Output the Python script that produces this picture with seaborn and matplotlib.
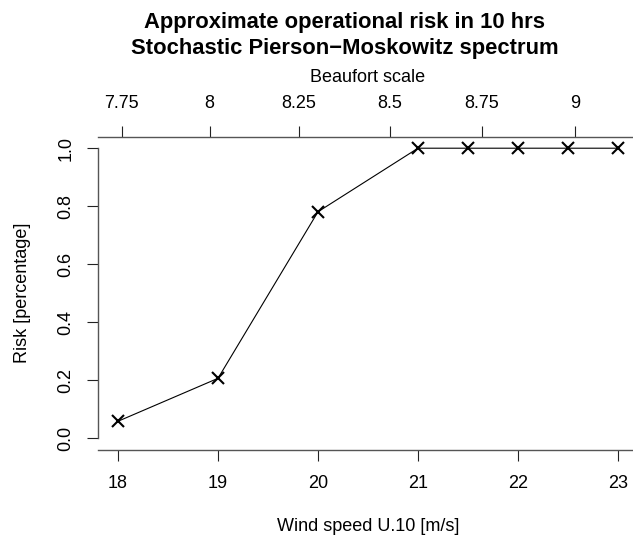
import matplotlib
matplotlib.use("Agg")
import matplotlib.pyplot as plt
import numpy as np
import pandas as pd
import seaborn as sns

# Operational risk vs. wind speed
wind_speed = [18, 19, 20, 21, 21.5, 22, 22.5, 23]
risk = [0.059, 0.207, 0.781, 1.0, 1.0, 1.0, 1.0, 1.0]

wind_ticks = [18, 19, 20, 21, 22, 23]
risk_ticks = [0.0, 0.2, 0.4, 0.6, 0.8, 1.0]
risk_labels = ["0.0", "0.2", "0.4", "0.6", "0.8", "1.0"]
beaufort_ticks = [7.75, 8, 8.25, 8.5, 8.75, 9]
beaufort_labels = ["7.75", "8", "8.25", "8.5", "8.75", "9"]

title_lines = ["Approximate operational risk in 10 hrs",
               "Stochastic Pierson\u2212Moskowitz spectrum"]


def beaufort_to_wind(b):
    # U10 = 0.836 * B^(3/2)
    return 0.836 * np.power(np.asarray(b, dtype=float), 1.5)


def wind_to_beaufort(u):
    u = np.clip(np.asarray(u, dtype=float), 1e-6, None)
    return np.power(u / 0.836, 2.0 / 3.0)


sns.set_theme(style="ticks")
plt.rcParams["font.family"] = ["Liberation Sans", "DejaVu Sans"]
plt.rcParams.update({"text.color": "black", "axes.labelcolor": "black",
                     "xtick.color": "black", "ytick.color": "black"})

W, H = 633, 538
fig = plt.figure(figsize=(W / 100, H / 100), dpi=100)
left, right, bottom, top = 98, 638, 450, 136.6
ax = fig.add_axes([left / W, (H - bottom) / H, (right - left) / W, (bottom - top) / H])

df = pd.DataFrame({"wind": wind_speed, "risk": risk})
sns.lineplot(data=df, x="wind", y="risk", ax=ax, color="black", linewidth=0.8,
             marker="x", markersize=8, markeredgewidth=1.5,
             markeredgecolor="black")

ax.set_xlim(17.8, 23.2)
ax.set_ylim(-0.04, 1.04)

tick_font = 13
spine_col = "#555555"

ax.set_xticks(wind_ticks)
ax.set_xticklabels([str(t) for t in wind_ticks])
ax.set_yticks(risk_ticks)
ax.set_yticklabels(risk_labels, rotation=90, va="center")
ax.tick_params(axis="both", direction="out", length=8, width=0.8,
               color="#222222", labelsize=tick_font, labelcolor="black")
ax.tick_params(axis="x", pad=10)
ax.tick_params(axis="y", pad=9)

for side in ["left", "bottom", "top"]:
    ax.spines[side].set_color(spine_col)
    ax.spines[side].set_linewidth(1.0)
ax.spines["right"].set_visible(False)
ax.spines["left"].set_bounds(0, 1)

ax.set_xlabel("Wind speed U.10 [m/s]", fontsize=tick_font, labelpad=19)
ax.set_ylabel("Risk [percentage]", fontsize=tick_font, labelpad=19)

# Beaufort scale on the top axis
sec = ax.secondary_xaxis("top", functions=(wind_to_beaufort, beaufort_to_wind))
sec.set_xticks(beaufort_ticks)
sec.set_xticklabels(beaufort_labels)
sec.tick_params(axis="x", direction="out", length=8, width=0.8,
                color="#222222", labelsize=tick_font, labelcolor="black", pad=10)
sec.spines["top"].set_visible(False)
sec.set_xlabel("Beaufort scale", fontsize=tick_font, labelpad=9, color="black")

fig.text(345 / W, 1 - 28 / H, title_lines[0], ha="center", va="baseline",
         fontsize=15.8, fontweight="bold", color="black")
fig.text(345 / W, 1 - 54 / H, title_lines[1], ha="center", va="baseline",
         fontsize=15.8, fontweight="bold", color="black")

fig.savefig("out.png", dpi=100, facecolor="white")
